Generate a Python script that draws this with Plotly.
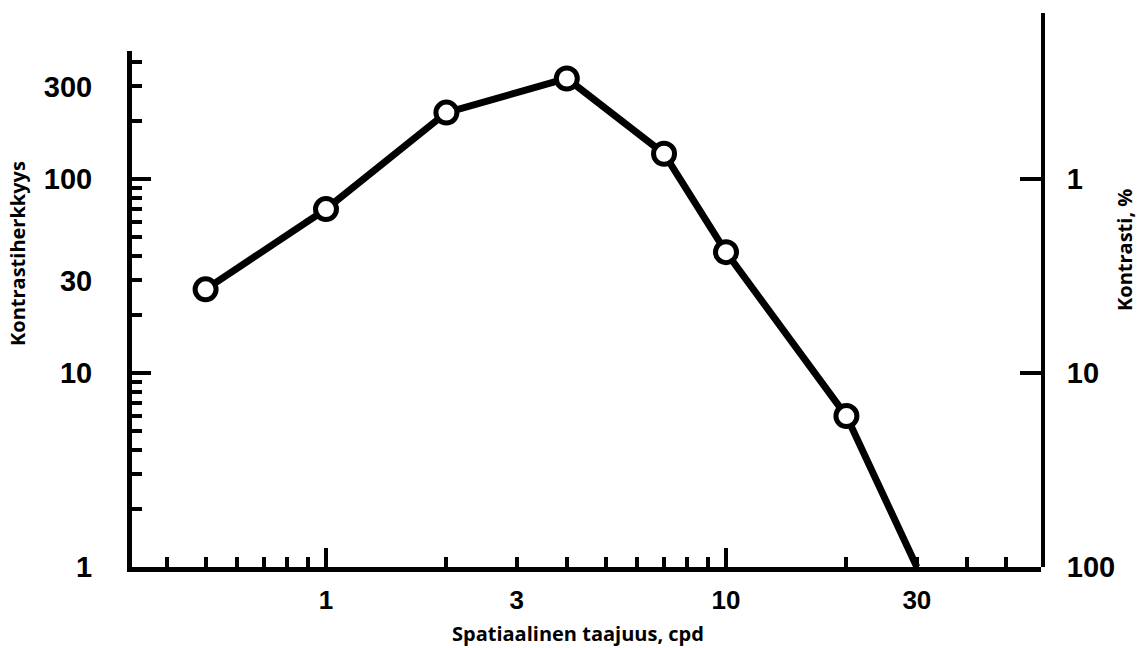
import plotly.graph_objects as go

# Contrast sensitivity function: sensitivity vs. spatial frequency
freq_cpd = [0.5, 1, 2, 4, 7, 10, 20, 30]
sensitivity = [27, 70, 220, 330, 135, 42, 6, 1]
# Threshold contrast in percent is the reciprocal of sensitivity
contrast_pct = [100 / s for s in sensitivity]

# Axis tick values
x_label_vals = [1, 3, 10, 30]
x_long_vals = [1, 10]
x_minor_vals = [0.4, 0.5, 0.6, 0.7, 0.8, 0.9, 2, 4, 5, 6, 7, 8, 9, 20, 40, 50]
y_label_vals = [1, 10, 30, 100, 300]
y_long_vals = [10, 100]
y_minor_vals = [2, 3, 4, 5, 6, 7, 8, 9, 20, 40, 50, 60, 70, 80, 90, 200, 400]
c_label_vals = [1, 10, 100]

W, H = 1142, 648
L, R, T, B = 132, 101, 13, 81
plot_w = W - L - R
plot_h = H - T - B

x_range = [-0.485, 1.7875]          # log10 cpd
y_top = 2.66                         # log10 sensitivity at top of left axis
px_per_decade = plot_h / 2.856
y_domain_top = y_top * px_per_decade / plot_h
c_range = [2, 2 - plot_h / px_per_decade]  # reversed contrast axis

y_tick_font = dict(family="Liberation Sans, Arial, sans-serif", size=29,
                   color="black", weight="bold")
x_tick_font = dict(family="Liberation Sans, Arial, sans-serif", size=26,
                   color="black", weight="bold")
title_font = dict(family="Open Sans, sans-serif", size=20, color="black",
                  weight="bold")

fig = go.Figure()

fig.add_trace(go.Scatter(
    x=freq_cpd, y=sensitivity, mode="lines",
    line=dict(color="black", width=7), hoverinfo="skip", showlegend=False))
fig.add_trace(go.Scatter(
    x=freq_cpd[:-1], y=sensitivity[:-1], mode="markers",
    marker=dict(symbol="circle", size=21, color="white",
                line=dict(color="black", width=5)),
    showlegend=False))
# Carriers for the long-tick overlay axes and the contrast axis
fig.add_trace(go.Scatter(
    x=freq_cpd, y=sensitivity, xaxis="x2", yaxis="y3", mode="markers",
    marker=dict(opacity=0), hoverinfo="skip", showlegend=False))
fig.add_trace(go.Scatter(
    x=freq_cpd, y=contrast_pct, xaxis="x", yaxis="y2", mode="markers",
    marker=dict(opacity=0), hoverinfo="skip", showlegend=False))

axis_common = dict(showgrid=False, zeroline=False, tickcolor="black",
                   tickwidth=4, linecolor="black")

fig.update_layout(
    width=W, height=H,
    margin=dict(l=L, r=R, t=T, b=B),
    paper_bgcolor="white", plot_bgcolor="rgba(0,0,0,0)",
    xaxis=dict(
        type="log", range=x_range, domain=[0, 1], anchor="y",
        showline=True, linewidth=5, ticks="inside", ticklen=10,
        tickmode="array", tickvals=x_label_vals,
        ticktext=[str(v) for v in x_label_vals],
        tickfont=x_tick_font, ticklabelstandoff=6,
        minor=dict(tickmode="array", tickvals=x_minor_vals, ticks="inside",
                   ticklen=10, tickwidth=4, tickcolor="black", showgrid=False),
        **axis_common),
    xaxis2=dict(
        type="log", range=x_range, overlaying="x", anchor="y", side="bottom",
        showline=False, ticks="inside", ticklen=19, tickmode="array",
        tickvals=x_long_vals, showticklabels=False, **axis_common),
    yaxis=dict(
        type="log", range=[0, y_top], domain=[0, y_domain_top], anchor="x",
        showline=True, linewidth=5, ticks="inside", ticklen=10,
        tickmode="array", tickvals=y_label_vals,
        ticktext=[str(v) for v in y_label_vals],
        tickfont=y_tick_font, ticklabelstandoff=29,
        minor=dict(tickmode="array", tickvals=y_minor_vals, ticks="inside",
                   ticklen=10, tickwidth=4, tickcolor="black", showgrid=False),
        **axis_common),
    yaxis3=dict(
        type="log", range=[0, y_top], overlaying="y", anchor="x", side="left",
        showline=False, ticks="inside", ticklen=19, tickmode="array",
        tickvals=y_long_vals, showticklabels=False, **axis_common),
    yaxis2=dict(
        type="log", range=c_range, domain=[0, 1], anchor="x", side="right",
        showline=True, linewidth=4, ticks="inside", ticklen=21,
        tickmode="array", tickvals=c_label_vals,
        ticktext=[str(v) for v in c_label_vals],
        tickfont=y_tick_font, ticklabelstandoff=16, **axis_common),
    annotations=[
        dict(text="Spatiaalinen taajuus, cpd", xref="paper", yref="paper",
             x=(578 - L) / plot_w, y=(H - B - 633) / plot_h,
             xanchor="center", yanchor="middle", showarrow=False,
             font=title_font),
        dict(text="Kontrastiherkkyys", xref="paper", yref="paper",
             x=(18 - L) / plot_w, y=(H - B - 254) / plot_h, textangle=-90,
             xanchor="center", yanchor="middle", showarrow=False,
             font=title_font),
        dict(text="Kontrasti, %", xref="paper", yref="paper",
             x=(1125 - L) / plot_w, y=(H - B - 250) / plot_h, textangle=-90,
             xanchor="center", yanchor="middle", showarrow=False,
             font=title_font),
    ],
)

fig.write_html("out.html")
